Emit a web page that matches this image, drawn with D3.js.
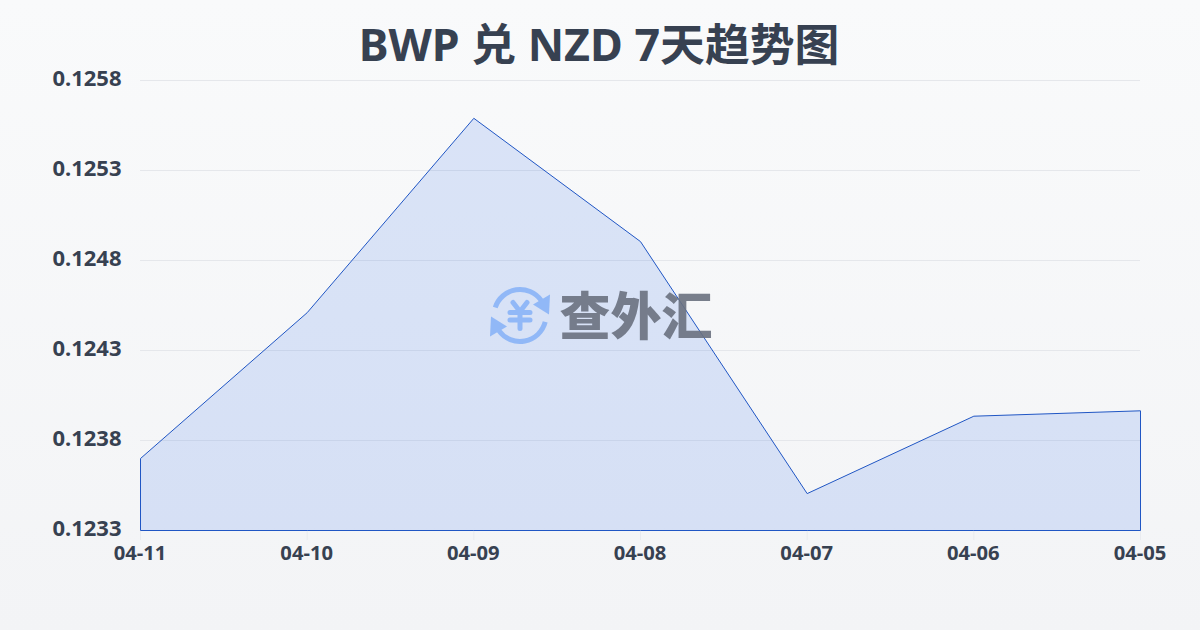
<!DOCTYPE html>
<html><head><meta charset="utf-8">
<script src="https://cdn.jsdelivr.net/npm/d3@7/dist/d3.min.js"></script>
<style>html,body{margin:0;padding:0;width:1200px;height:630px;overflow:hidden}svg{display:block}
text{font-family:"Noto Sans","Noto Sans CJK SC",sans-serif}</style></head><body>
<svg id="c" width="1200" height="630"></svg>
<script>
const titleText = "BWP 兑 NZD 7天趋势图";
const dates = ["04-11","04-10","04-09","04-08","04-07","04-06","04-05"];
const rates = [0.12370,0.12451,0.12559,0.124905,0.123505,0.123935,0.123965];
const yTicks = [0.1233,0.1238,0.1243,0.1248,0.1253,0.1258];
const watermark = "查外汇";

const svg = d3.select("#c");
const defs = svg.append("defs");
const bg = defs.append("linearGradient").attr("id","bg").attr("x1",0).attr("y1",0).attr("x2",0).attr("y2",1);
bg.append("stop").attr("offset",0).attr("stop-color","#f9fafb");
bg.append("stop").attr("offset",1).attr("stop-color","#f3f4f6");
svg.append("rect").attr("width",1200).attr("height",630).attr("fill","url(#bg)");

const x = d3.scalePoint().domain(dates).range([140,1140]);
const y = d3.scaleLinear().domain([0.1233,0.1258]).range([530,80]);

svg.append("text").attr("x",599).attr("y",61).attr("text-anchor","middle")
  .attr("font-size",44.8).attr("font-weight",700).attr("fill","#374151").text(titleText);

svg.append("g").selectAll("line").data(yTicks.slice(1)).join("line")
  .attr("x1",140).attr("x2",1140).attr("y1",d=>y(d)+.5).attr("y2",d=>y(d)+.5)
  .attr("stroke","#e5e7eb").attr("stroke-width",1);
svg.append("g").selectAll("line").data(dates).join("line")
  .attr("x1",d=>x(d)+.5).attr("x2",d=>x(d)+.5).attr("y1",530).attr("y2",540)
  .attr("stroke","#e9ebef").attr("stroke-width",1);

const area = d3.area().x((d,i)=>x(dates[i])).y0(y(0.1233)).y1(d=>y(d));
svg.append("g").attr("transform","translate(.5,.5)").append("path").datum(rates).attr("d",area)
  .attr("fill","#2563eb").attr("fill-opacity",.14)
  .attr("stroke","#2056c4").attr("stroke-width",1).attr("stroke-linejoin","round");

svg.append("g").selectAll("text").data(yTicks).join("text")
  .attr("x",121.5).attr("y",d=>y(d)+6).attr("text-anchor","end")
  .attr("font-size",22).attr("font-weight",700).attr("fill","#374151")
  .text(d=>d3.format(".4f")(d));
svg.append("g").selectAll("text").data(dates).join("text")
  .attr("x",d=>x(d)).attr("y",560).attr("text-anchor","middle")
  .attr("font-size",20.2).attr("font-weight",700).attr("fill","#374151").text(d=>d);

// watermark logo
const logo = svg.append("g").attr("opacity",.9);
const ic = logo.append("g").attr("transform","translate(520,315.5)")
  .attr("fill","none").attr("stroke","#8ab4f8").attr("stroke-linecap","round");
ic.append("path").attr("stroke-width",5).attr("d",d3.arc()({innerRadius:26,outerRadius:26,startAngle:-1.26,endAngle:.95}));
ic.append("path").attr("stroke-width",5).attr("d",d3.arc()({innerRadius:26,outerRadius:26,startAngle:1.82,endAngle:4.09}));
ic.append("path").attr("fill","#8ab4f8").attr("stroke","none").attr("d","M29 -1 L13 -11 L30 -21 Z");
ic.append("path").attr("fill","#8ab4f8").attr("stroke","none").attr("d","M-29 1 L-13 11 L-30 21 Z");
ic.append("path").attr("stroke-width",5).attr("d","M-7 -13 L0 -4 L7 -13 M0 -4 L0 13 M-10 -3 L10 -3 M-10 4.5 L10 4.5");
logo.append("text").attr("x",636).attr("y",335).attr("text-anchor","middle")
  .attr("font-size",51).attr("font-weight",900).attr("fill","#6b7280").text(watermark);
</script></body></html>
